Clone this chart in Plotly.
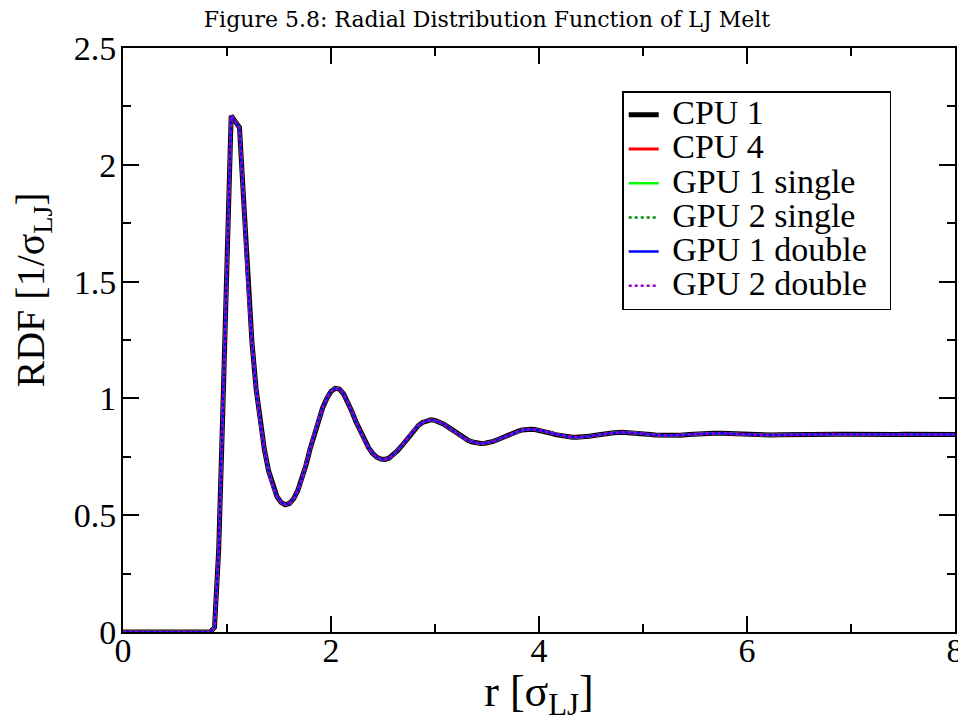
import plotly.graph_objects as go

# radial grid (bin positions, sigma_LJ): fine bins up to 4.40, coarser beyond
r_fine = [round(0.04 * i, 2) for i in range(111)]          # 0.00 .. 4.40
r_coarse = [round(4.48 + 0.08 * i, 2) for i in range(45)]  # 4.48 .. 8.00
r = r_fine + r_coarse

# RDF values (all runs coincide)
rdf_fine = [0] * 22 + [
    0.02, 0.35, 0.95, 1.60,
    2.21, 2.185, 2.16, 1.85, 1.50,
    1.24, 1.04, 0.90, 0.78, 0.69, 0.625, 0.58, 0.555, 0.545, 0.55,
    0.57, 0.605, 0.655, 0.715, 0.785, 0.85, 0.91, 0.96, 1.00, 1.03,
    1.043, 1.04, 1.02, 0.985, 0.945, 0.90, 0.86, 0.822, 0.79, 0.765,
    0.748, 0.740, 0.739, 0.745, 0.758, 0.776, 0.797, 0.82, 0.845, 0.866,
    0.884, 0.897, 0.905, 0.908, 0.906, 0.90, 0.891, 0.879, 0.866, 0.853,
    0.84, 0.829, 0.82, 0.813, 0.809, 0.807, 0.808, 0.811, 0.816, 0.823,
    0.831, 0.839, 0.847, 0.854, 0.86, 0.865, 0.868, 0.868, 0.867, 0.864,
    0.86, 0.855, 0.85, 0.845, 0.841, 0.838, 0.836, 0.834, 0.834, 0.834,
]
rdf_coarse = [
    0.838, 0.843, 0.849, 0.853, 0.855, 0.854, 0.851, 0.847, 0.843, 0.841,
    0.841, 0.842, 0.845, 0.848, 0.850, 0.851, 0.851, 0.849, 0.847, 0.845,
    0.843, 0.843, 0.843, 0.844, 0.845, 0.846, 0.847, 0.848, 0.848, 0.847,
    0.846, 0.846, 0.845, 0.845, 0.844, 0.844, 0.845, 0.845, 0.846, 0.846,
    0.846, 0.845, 0.845, 0.845, 0.845,
]
rdf = rdf_fine + rdf_coarse

series_names = ["CPU 1", "CPU 4", "GPU 1 single", "GPU 2 single", "GPU 1 double", "GPU 2 double"]
series_data = {name: rdf for name in series_names}

styles = {
    "CPU 1": dict(color="black", width=5, dash="solid"),
    "CPU 4": dict(color="#ff0000", width=3, dash="solid"),
    "GPU 1 single": dict(color="#00ff00", width=2.5, dash="solid"),
    "GPU 2 single": dict(color="#008b00", width=2.5, dash="dot"),
    "GPU 1 double": dict(color="#0000ff", width=2.5, dash="solid"),
    "GPU 2 double": dict(color="#9400d3", width=2.5, dash="dot"),
}

FONT = "Liberation Serif"

fig = go.Figure()
for name in series_names:
    fig.add_trace(go.Scatter(x=r, y=series_data[name], mode="lines",
                             name='<span style="font-size:34px">&nbsp;' + name + '&nbsp;&nbsp;</span>',
                             line=styles[name]))

axis_common = dict(
    showline=True, linecolor="black", linewidth=2, mirror="allticks",
    ticks="inside", tickcolor="black", tickwidth=1.5, ticklen=16,
    showgrid=False, zeroline=False, automargin=False,
    tickfont=dict(family=FONT, size=34, color="black"),
)

fig.update_layout(
    width=958, height=714,
    margin=dict(l=115, r=11, t=40, b=90),
    paper_bgcolor="white", plot_bgcolor="white",
    title=dict(text="Figure 5.8: Radial Distribution Function of LJ Melt",
               x=0.5, xanchor="center", y=1.0, yanchor="top", pad=dict(t=4, b=0),
               font=dict(family="DejaVu Serif", size=22, color="black")),
    xaxis=dict(range=[0, 8], dtick=2, tick0=0, ticklabelstandoff=-13,
               minor=dict(dtick=1, ticklen=8, ticks="inside", tickcolor="black", tickwidth=1.5),
               title=dict(text="r [σ<sub>LJ</sub>]", font=dict(family=FONT, size=44, color="black"), standoff=24),
               **axis_common),
    yaxis=dict(range=[0, 2.5], dtick=0.5, tick0=0, ticklabelstandoff=-2,
               minor=dict(dtick=0.25, ticklen=8, ticks="inside", tickcolor="black", tickwidth=1.5),
               **axis_common),
    legend=dict(x=0.600, y=0.926, xanchor="left", yanchor="top",
                bgcolor="white", bordercolor="black", borderwidth=1.5,
                font=dict(family=FONT, size=24, color="black"),
                tracegroupgap=0, itemwidth=30),
    showlegend=True,
    annotations=[dict(text="RDF [1/σ<sub>LJ</sub>]", textangle=-90,
                      xref="paper", yref="paper", x=-0.108, y=0.585,
                      xanchor="center", yanchor="middle", showarrow=False,
                      font=dict(family=FONT, size=40, color="black"))],
)

fig.write_html("out.html")
